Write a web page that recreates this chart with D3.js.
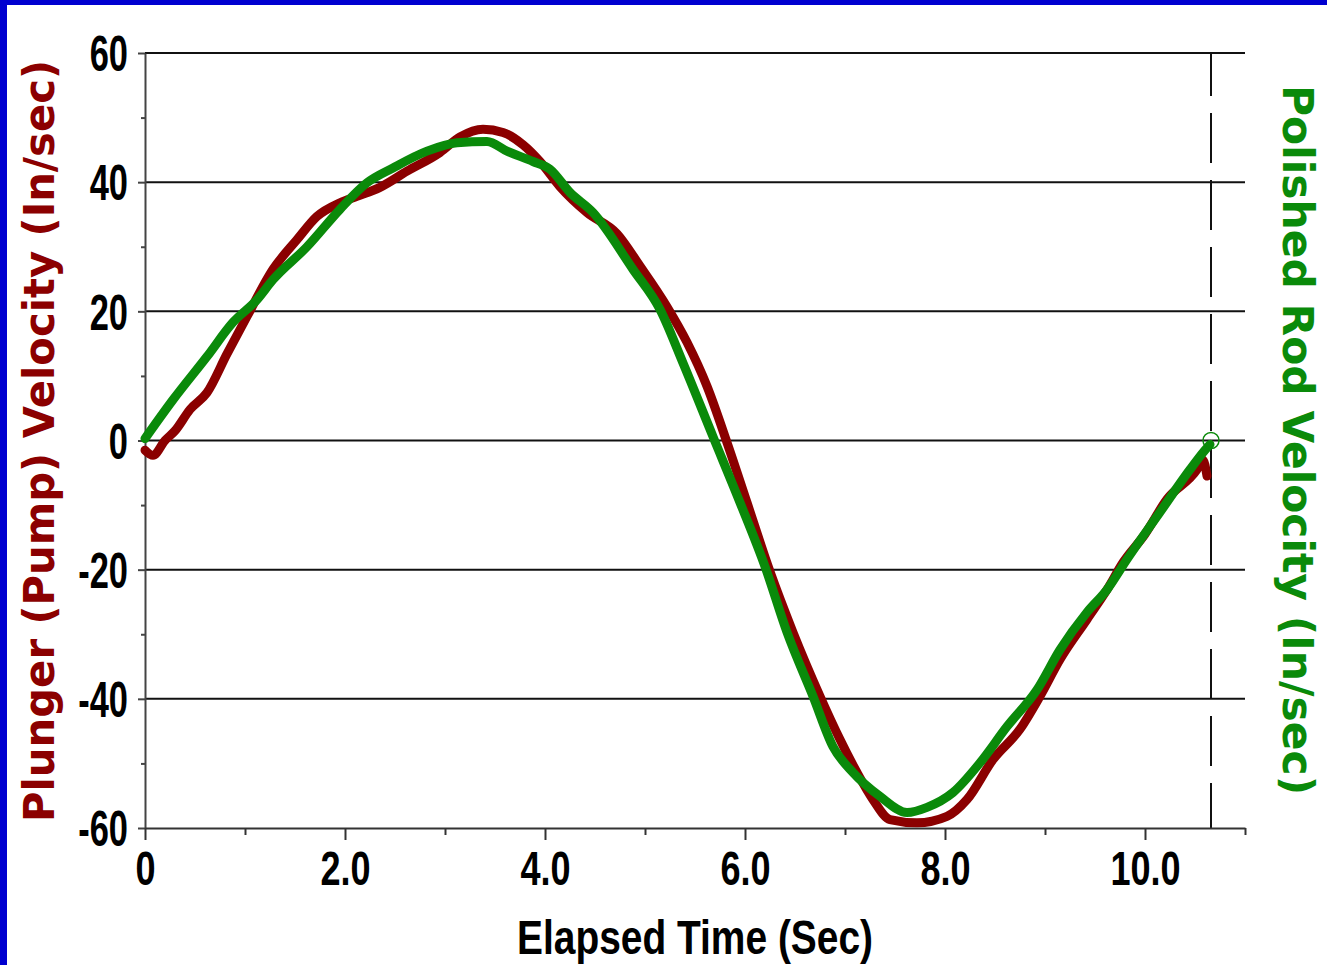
<!DOCTYPE html>
<html>
<head>
<meta charset="utf-8">
<script src="https://cdn.jsdelivr.net/npm/d3@7/dist/d3.min.js"></script>
<style>
  html, body { margin: 0; padding: 0; background: #0000D0; }
  svg { display: block; }
</style>
</head>
<body>
<svg id="chart" width="1327" height="965"></svg>
<script>
// ---- data ----
const plungerTime = [0, 0.08, 0.2, 0.3, 0.45, 0.62, 0.82, 1.02, 1.28, 1.52, 1.72, 1.95, 2.12, 2.35, 2.62, 2.95, 3.15, 3.38, 3.58, 3.78, 3.95, 4.15, 4.42, 4.72, 4.95, 5.22, 5.42, 5.62, 5.82, 6.02, 6.25, 6.48, 6.75, 6.95, 7.12, 7.28, 7.45, 7.72, 8.02, 8.22, 8.48, 8.75, 8.95, 9.15, 9.42, 9.62, 9.78, 10.0, 10.22, 10.52, 10.58, 10.62];
const plungerVel  = [-1.5, -2.3, 0, 1.5, 4.8, 7.4, 13.4, 19.2, 26.5, 31.1, 34.7, 36.8, 37.8, 39.2, 41.7, 44.6, 47.0, 48.2, 47.7, 45.8, 43.2, 39.3, 35.3, 32.0, 27.0, 20.7, 15.2, 8.4, -0.3, -9.6, -20.3, -29.7, -39.6, -46.3, -51.4, -55.6, -58.7, -59.2, -58.2, -55.6, -49.4, -44.7, -39.6, -33.9, -27.7, -23.1, -18.9, -14.5, -9.1, -4.5, -3.0, -5.5];

const rodTime = [0, 0.28, 0.62, 0.88, 1.12, 1.28, 1.62, 1.95, 2.22, 2.48, 2.82, 3.12, 3.42, 3.62, 3.88, 4.05, 4.25, 4.48, 4.88, 5.15, 5.38, 5.68, 5.95, 6.2, 6.42, 6.68, 6.88, 7.08, 7.35, 7.62, 7.82, 8.08, 8.35, 8.62, 8.92, 9.15, 9.42, 9.62, 9.82, 10.15, 10.45, 10.6, 10.65];
const rodVel  = [0.3, 6.3, 13.0, 18.3, 21.8, 24.9, 30.0, 35.8, 39.9, 42.2, 44.8, 46.1, 46.3, 44.8, 43.2, 42.0, 38.4, 35.3, 26.5, 20.3, 12.0, 0.6, -9.6, -19.5, -29.7, -39.6, -47.4, -51.4, -55.1, -57.6, -56.8, -54.5, -49.9, -44.3, -38.6, -32.4, -26.6, -23.1, -18.4, -11.1, -4.5, -1.5, -0.6];

const yMajorTicks = [-60, -40, -20, 0, 20, 40, 60];
const yMinorTicks = [-50, -30, -10, 10, 30, 50];
const yGridValues = [-40, -20, 0, 20, 40, 60];
const xMajorTicks = [0, 2, 4, 6, 8, 10];
const xMinorTicks = [1, 3, 5, 7, 9, 11];
const xTickLabels = ["0", "2.0", "4.0", "6.0", "8.0", "10.0"];
const cycleEnd = 10.66;

const xTitle = "Elapsed Time (Sec)";
const yLeftTitle = "Plunger (Pump) Velocity (In/sec)";
const yRightTitle = "Polished Rod Velocity (In/sec)";

// ---- setup ----
const svg = d3.select("#chart");
svg.append("rect").attr("x", 7).attr("y", 5).attr("width", 1320).attr("height", 960).attr("fill", "#ffffff");

const x = d3.scaleLinear().domain([0, 11]).range([145, 1245]);
const y = d3.scaleLinear().domain([-60, 60]).range([828, 53]);

const sans = "'Liberation Sans', Arial, sans-serif";
const wide = "'DejaVu Sans', Verdana, sans-serif";
const condense = 0.82;

// gridlines
svg.append("g").selectAll("line").data(yGridValues).join("line")
  .attr("x1", x(0)).attr("x2", x(11))
  .attr("y1", d => y(d)).attr("y2", d => y(d))
  .attr("stroke", "#111").attr("stroke-width", 2);

// dashed cycle-end line
svg.append("line")
  .attr("x1", x(cycleEnd)).attr("x2", x(cycleEnd))
  .attr("y1", y(60)).attr("y2", y(-60))
  .attr("stroke", "#111").attr("stroke-width", 2)
  .attr("stroke-dasharray", "50,17").attr("stroke-dashoffset", 7);

// left axis
const sY = 1.17;
const gy = svg.append("g").attr("transform", `translate(${x(0)},0)`)
  .call(d3.axisLeft(y).tickValues(yMajorTicks).tickSize(7).tickSizeOuter(0).tickFormat(d => d));
gy.select(".domain").attr("stroke", "#444").attr("stroke-width", 2);
gy.selectAll(".tick line").attr("stroke", "#444").attr("stroke-width", 2);
gy.selectAll(".tick text")
  .attr("x", -17 / condense).attr("dy", "0.36em")
  .attr("transform", `scale(${condense},${sY})`)
  .style("font-family", sans).style("font-weight", "bold").style("font-size", "42px")
  .attr("fill", "#000");
const gyMinor = svg.append("g").attr("transform", `translate(${x(0)},0)`)
  .call(d3.axisLeft(y).tickValues(yMinorTicks).tickSize(4).tickFormat(""));
gyMinor.select(".domain").remove();
gyMinor.selectAll(".tick line").attr("stroke", "#444").attr("stroke-width", 2);

// bottom axis
const sX = 1.11;
const gx = svg.append("g").attr("transform", `translate(0,${y(-60)})`)
  .call(d3.axisBottom(x).tickValues(xMajorTicks).tickSize(12).tickSizeOuter(0)
    .tickFormat((d, i) => xTickLabels[i]));
gx.select(".domain").attr("stroke", "#333").attr("stroke-width", 2);
gx.selectAll(".tick line").attr("stroke", "#333").attr("stroke-width", 2);
gx.selectAll(".tick text")
  .attr("y", 57 / sX).attr("dy", 0)
  .attr("transform", `scale(${condense},${sX})`)
  .style("font-family", sans).style("font-weight", "bold").style("font-size", "44px")
  .attr("fill", "#000");
const gxMinor = svg.append("g").attr("transform", `translate(0,${y(-60)})`)
  .call(d3.axisBottom(x).tickValues(xMinorTicks).tickSize(7).tickFormat(""));
gxMinor.select(".domain").remove();
gxMinor.selectAll(".tick line").attr("stroke", "#333").attr("stroke-width", 2);

// lines
const line = d3.line().x(d => x(d[0])).y(d => y(d[1])).curve(d3.curveMonotoneX);
const plunger = plungerTime.map((t, i) => [t, plungerVel[i]]);
const rod = rodTime.map((t, i) => [t, rodVel[i]]);

svg.append("path").datum(plunger).attr("d", line)
  .attr("fill", "none").attr("stroke", "#8B0000").attr("stroke-width", 9)
  .attr("stroke-linejoin", "round").attr("stroke-linecap", "round");
svg.append("path").datum(rod).attr("d", line)
  .attr("fill", "none").attr("stroke", "#0A8A0A").attr("stroke-width", 9)
  .attr("stroke-linejoin", "round").attr("stroke-linecap", "round");

// end-of-cycle marker
svg.append("circle").attr("cx", x(cycleEnd)).attr("cy", y(0)).attr("r", 8)
  .attr("fill", "none").attr("stroke", "#0A8A0A").attr("stroke-width", 1.5);

// titles
svg.append("text")
  .attr("transform", `translate(695,954) scale(1,1.04)`)
  .attr("text-anchor", "middle")
  .attr("textLength", 356).attr("lengthAdjust", "spacingAndGlyphs")
  .style("font-family", sans).style("font-weight", "bold").style("font-size", "47px")
  .attr("fill", "#000").text(xTitle);

svg.append("text")
  .attr("transform", `translate(54,441) rotate(-90)`)
  .attr("text-anchor", "middle")
  .attr("textLength", 762).attr("lengthAdjust", "spacingAndGlyphs")
  .style("font-family", wide).style("font-weight", "bold").style("font-size", "42px")
  .attr("fill", "#8B0000").text(yLeftTitle);

svg.append("text")
  .attr("transform", `translate(1283,440) rotate(90)`)
  .attr("text-anchor", "middle")
  .attr("textLength", 710).attr("lengthAdjust", "spacingAndGlyphs")
  .style("font-family", wide).style("font-weight", "bold").style("font-size", "42px")
  .attr("fill", "#0A8A0A").text(yRightTitle);
</script>
</body>
</html>
